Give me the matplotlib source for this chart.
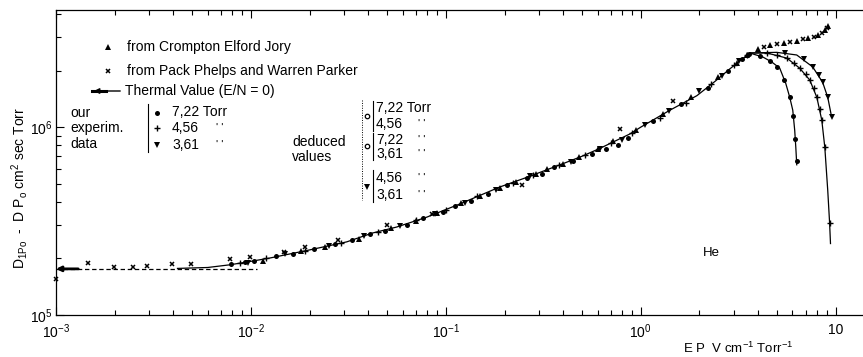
import numpy as np
import matplotlib
matplotlib.use("Agg")
import matplotlib.pyplot as plt
from matplotlib.lines import Line2D
from matplotlib.patches import FancyArrowPatch

plt.rcParams['font.family'] = ['Liberation Sans', 'DejaVu Sans']
plt.rcParams['mathtext.fontset'] = 'custom'
plt.rcParams['mathtext.rm'] = 'Liberation Sans'
plt.rcParams['mathtext.it'] = 'Liberation Sans'

# ---- data (E/P in V cm-1 Torr-1, D in cm2 sec-1 Torr) ----
thermal_value = 1.76e5
thermal_x = [1.0e-3, 0.0107]

curve_x = [0.0042, 0.006, 0.0078, 0.010, 0.0125, 0.020, 0.031, 0.042, 0.056, 0.080,
           0.118, 0.189, 0.26, 0.385, 0.50, 0.616, 0.88, 1.0, 1.41, 1.94, 2.4, 2.86,
           3.4, 3.62]
curve_y = [1.77e5, 1.79e5, 1.85e5, 1.93e5, 2.01e5, 2.22e5, 2.45e5, 2.73e5, 2.94e5, 3.32e5,
           3.9e5, 4.8e5, 5.4e5, 6.3e5, 7.0e5, 7.7e5, 9.2e5, 1.0e6, 1.23e6, 1.47e6, 1.75e6,
           2.04e6, 2.35e6, 2.48e6]

# deduced branches after the maximum
branch_a_x = [3.62, 4.23, 4.7, 5.16, 5.54, 5.81, 6.02, 6.16, 6.24, 6.31]
branch_a_y = [2.48e6, 2.36e6, 2.22e6, 2.06e6, 1.71e6, 1.44e6, 1.23e6, 9.6e5, 7.8e5, 6.3e5]
branch_b_x = [3.62, 4.43, 5.61, 6.53, 7.36, 8.0, 8.48, 8.79, 9.1, 9.3, 9.4]
branch_b_y = [2.48e6, 2.48e6, 2.33e6, 2.06e6, 1.78e6, 1.44e6, 1.09e6, 7.8e5, 4.6e5, 3.1e5, 2.4e5]
branch_c_x = [3.62, 4.98, 6.31, 7.62, 8.57, 9.1, 9.53]
branch_c_y = [2.48e6, 2.5e6, 2.42e6, 2.09e6, 1.73e6, 1.44e6, 1.13e6]

# our experimental data
p722_x = [0.0079, 0.0093, 0.0104, 0.0135, 0.0165, 0.021, 0.027, 0.033, 0.041, 0.049,
          0.063, 0.076, 0.097, 0.112, 0.135, 0.165, 0.205, 0.26, 0.31, 0.36, 0.45, 0.56,
          0.66, 0.76, 0.86, 1.15, 1.6, 2.2, 2.8, 3.3, 3.6, 4.1, 4.6, 5.0, 5.45, 5.8, 6.05,
          6.2, 6.3]
p722_y = [1.86e5, 1.92e5, 1.93e5, 2.05e5, 2.1e5, 2.24e5, 2.38e5, 2.5e5, 2.7e5, 2.8e5,
          3.03e5, 3.28e5, 3.55e5, 3.8e5, 4.05e5, 4.4e5, 4.9e5, 5.35e5, 5.65e5, 6.1e5, 6.6e5,
          7.2e5, 7.6e5, 8.0e5, 8.7e5, 1.08e6, 1.32e6, 1.62e6, 2.0e6, 2.3e6, 2.45e6, 2.4e6,
          2.25e6, 2.08e6, 1.78e6, 1.44e6, 1.15e6, 8.6e5, 6.6e5]
p456_x = [0.0088, 0.012, 0.019, 0.029, 0.045, 0.07, 0.10, 0.145, 0.22, 0.28, 0.38, 0.52,
          0.70, 0.90, 1.25, 1.7, 2.3, 3.0, 3.5, 4.43, 5.0, 5.61, 6.1, 6.53, 7.0, 7.36, 7.7,
          8.0, 8.3, 8.48, 8.79, 9.3]
p456_y = [1.89e5, 2.0e5, 2.2e5, 2.42e5, 2.78e5, 3.2e5, 3.62e5, 4.3e5, 5.05e5, 5.55e5,
          6.3e5, 7.1e5, 8.2e5, 9.3e5, 1.12e6, 1.35e6, 1.7e6, 2.15e6, 2.42e6, 2.48e6, 2.42e6,
          2.33e6, 2.2e6, 2.06e6, 1.92e6, 1.78e6, 1.62e6, 1.44e6, 1.25e6, 1.09e6, 7.8e5,
          3.1e5]
p361_x = [0.0097, 0.015, 0.025, 0.038, 0.058, 0.088, 0.125, 0.18, 0.27, 0.44, 0.62, 0.80,
          1.05, 1.4, 2.0, 2.6, 3.2, 5.5, 6.9, 7.62, 8.2, 8.57, 9.1, 9.53]
p361_y = [1.9e5, 2.12e5, 2.33e5, 2.62e5, 2.96e5, 3.45e5, 3.95e5, 4.65e5, 5.5e5, 6.5e5,
          7.6e5, 8.5e5, 1.03e6, 1.22e6, 1.55e6, 1.88e6, 2.25e6, 2.47e6, 2.3e6, 2.09e6,
          1.9e6, 1.73e6, 1.44e6, 1.13e6]

# other authors
crompton_x = [0.0115, 0.018, 0.024, 0.036, 0.052, 0.07, 0.09, 0.12, 0.15, 0.19, 0.23,
              0.29, 0.33, 0.40, 0.48, 0.60, 0.72, 0.95, 1.3, 1.8, 2.5, 3.1, 3.5,
              4.0, 4.6, 5.4, 6.3, 7.2, 8.1, 8.8, 9.1]
crompton_y = [1.95e5, 2.2e5, 2.3e5, 2.55e5, 2.9e5, 3.15e5, 3.5e5, 3.95e5, 4.3e5, 4.75e5,
              5.1e5, 5.6e5, 5.95e5, 6.4e5, 6.9e5, 7.6e5, 8.4e5, 9.7e5, 1.17e6, 1.44e6,
              1.85e6, 2.2e6, 2.42e6, 2.62e6, 2.72e6, 2.8e6, 2.87e6, 2.97e6, 3.08e6,
              3.28e6, 3.45e6]
pack_x = [0.001, 0.00146, 0.00198, 0.00248, 0.00293, 0.00394, 0.00492, 0.0078, 0.0099,
          0.0148, 0.019, 0.028, 0.05, 0.085, 0.245, 0.78, 1.46,
          4.3, 5.0, 5.8, 6.8, 7.7, 8.5, 9.0]
pack_y = [1.55e5, 1.89e5, 1.8e5, 1.8e5, 1.82e5, 1.87e5, 1.87e5, 1.99e5, 2.03e5,
          2.16e5, 2.3e5, 2.5e5, 3.0e5, 3.45e5, 4.9e5, 9.8e5, 1.37e6,
          2.68e6, 2.76e6, 2.83e6, 2.93e6, 3.03e6, 3.18e6, 3.36e6]

fig = plt.figure(figsize=(8.63, 3.57), dpi=100)
ax = fig.add_axes([56/863, 42/357, (863-56)/863, 305/357])

ax.set_xscale('log')
ax.set_yscale('log')
ax.set_xlim(1e-3, 13.8)
ax.set_ylim(1e5, 4.2e6)

# thermal value, dashed
ax.plot(thermal_x, [thermal_value]*2, color='black', lw=0.9, dashes=(3.5, 2.2))
ax.annotate('', xy=(1.0e-3, thermal_value), xytext=(1.3e-3, thermal_value),
            arrowprops=dict(arrowstyle='-|>', color='black', lw=2.0, mutation_scale=7,
                            shrinkA=0, shrinkB=0), annotation_clip=False)

# fitted curves
ax.plot(curve_x, curve_y, color='black', lw=0.9)
for bx, by in [(branch_a_x, branch_a_y), (branch_b_x, branch_b_y), (branch_c_x, branch_c_y)]:
    ax.plot(bx, by, color='black', lw=0.9)

ax.plot(p722_x, p722_y, 'o', color='black', ms=3.6, mew=0)
ax.plot(p456_x, p456_y, '+', color='black', ms=4, mew=1.0)
ax.plot(p361_x, p361_y, 'v', color='black', ms=4, mew=0)
ax.plot(crompton_x, crompton_y, '^', color='black', ms=3.8, mew=0)
ax.plot(pack_x, pack_y, 'x', color='black', ms=3, mew=1.1, clip_on=False)

ax.text(2.31, 2.14e5, 'He', fontsize=9.5, ha='center', va='center')

# axes styling
for side in ['left', 'bottom', 'top']:
    ax.spines[side].set_linewidth(0.9)
ax.spines['right'].set_visible(False)
ax.tick_params(which='both', direction='in', top=True, right=False, width=0.8,
               labelsize=10, pad=2.5)
ax.tick_params(axis='x', which='major', pad=5.5)
ax.tick_params(which='major', length=6)
ax.tick_params(which='minor', length=3.5)
ax.set_xticks([1e-3, 1e-2, 1e-1, 1, 10])
ax.set_xticklabels(['$10^{-3}$', '$10^{-2}$', '$10^{-1}$', '$10^{0}$', '10'])
ax.set_yticks([1e5, 1e6])
ax.set_yticklabels(['$10^{5}$', '$10^{6}$'])
ax.xaxis.set_minor_locator(matplotlib.ticker.LogLocator(base=10, subs=np.arange(2, 10)))
ax.yaxis.set_minor_locator(matplotlib.ticker.LogLocator(base=10, subs=np.arange(2, 10)))
ax.xaxis.set_minor_formatter(matplotlib.ticker.NullFormatter())
ax.yaxis.set_minor_formatter(matplotlib.ticker.NullFormatter())

fig.text(19/863, 1 - 188/357, 'D$_{1Po}$  -  D P$_o$ cm$^2$ sec Torr', rotation=90,
         ha='center', va='center', fontsize=10)
fig.text(738/863, 1 - 348/357, 'E P  V cm$^{-1}$ Torr$^{-1}$', ha='center', va='center',
         fontsize=9.5)


# ---- hand drawn legend (pixel positions -> figure fraction) ----
def fx(px):
    return px / 863


def fy(py):
    return 1 - py / 357


def ftext(px, py, s, size=10):
    fig.text(fx(px), fy(py), s, ha='left', va='center', fontsize=size)


def fmark(px, py, m, **kw):
    fig.add_artist(Line2D([fx(px)], [fy(py)], marker=m, color='black', linestyle='none', **kw))


def fline(xs, ys, **kw):
    fig.add_artist(Line2D([fx(v) for v in xs], [fy(v) for v in ys], color='black', **kw))


fmark(108, 47, '^', ms=3.8, mew=0)
ftext(127, 47, 'from Crompton Elford Jory')
fmark(108, 71, 'x', ms=3, mew=1.1)
ftext(127, 71, 'from Pack Phelps and Warren Parker')
fig.add_artist(FancyArrowPatch((fx(123), fy(91)), (fx(91), fy(91)), transform=fig.transFigure,
                               arrowstyle='-|>', mutation_scale=8, lw=1.0, color='black'))
fline([92, 106], [91, 91], lw=2.2)
ftext(125, 91, 'Thermal Value (E/N = 0)')

ftext(70, 113, 'our')
ftext(70, 128, 'experim.')
ftext(70, 144, 'data')
fline([148, 148], [104, 152], lw=0.8)
fmark(157, 113, 'o', ms=3.6, mew=0)
fmark(157, 128, '+', ms=4, mew=1.0)
fmark(157, 145, 'v', ms=4, mew=0)
ftext(172, 112, '7,22 Torr')
ftext(172, 128, '4,56')
ftext(172, 145, '3,61')
ftext(216, 128, "' '", 8)
ftext(216, 145, "' '", 8)

ftext(292, 142, 'deduced')
ftext(292, 157, 'values')
fline([362, 362], [100, 200], lw=0.7, ls=(0, (1, 1.5)))
for (m, yc, y0, y1) in [('o', 116, 101, 131), ('o', 146, 133, 160), ('v', 187, 170, 202)]:
    fmark(367, yc, m, ms=3.2 if m == 'o' else 4, mfc='white' if m == 'o' else 'black',
          mew=0.9 if m == 'o' else 0)
    fline([373, 373], [y0, y1], lw=0.8)
for yy, s in [(108, '7,22 Torr'), (124, '4,56'), (140, '7,22'), (154, '3,61'), (178, '4,56'),
              (195, '3,61')]:
    ftext(376, yy, s)
for yy in [124, 140, 154, 178, 195]:
    ftext(418, yy, "' '", 8)

fig.savefig('out.png', dpi=100)
